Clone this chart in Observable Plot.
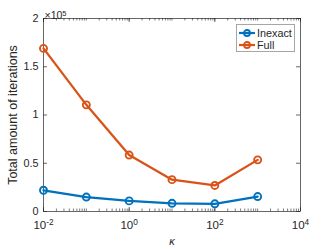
<!DOCTYPE html>
<html>
<head>
<meta charset="utf-8">
<script src="https://cdn.jsdelivr.net/npm/d3@7"></script>
<script src="https://cdn.jsdelivr.net/npm/@observablehq/plot@0.6"></script>
<style>
  html, body { margin: 0; padding: 0; background: #fff; }
  #wrap { position: relative; width: 332px; height: 249px; font-family: "Liberation Sans", Arial, Helvetica, sans-serif; }
  #legend { position: absolute; left: 236px; top: 24px; width: 59px; height: 28px; border: 1px solid #a6a6a6; background: #fff; box-sizing: border-box; }
  .li { position: absolute; left: 0; height: 12px; display: flex; align-items: center; font-size: 10.8px; color: #262626; }
  .li svg { margin-left: 1px; margin-right: 1px; }
</style>
</head>
<body>
<div id="wrap"></div>
<script>
const kappa = [0.01, 0.1, 1, 10, 100, 1000];
const inexact = [22000, 15000, 11000, 8500, 8000, 15500];
const full = [169000, 110500, 58500, 33000, 27000, 53500];
const seriesNames = ["Inexact", "Full"];
const seriesColors = ["#0072BD", "#D95319"];
const yTicks = [0, 50000, 100000, 150000, 200000];
const xLabelTicks = [1e-2, 1, 1e2, 1e4];
const xMinorTicks = d3.range(-2, 4).flatMap(e => d3.range(1, 10).map(m => m * Math.pow(10, e))).concat([1e4]);

const data = [];
seriesNames.forEach((s, i) => {
  const vals = i === 0 ? inexact : full;
  kappa.forEach((k, j) => data.push({series: s, kappa: k, value: vals[j]}));
});

const W = 332, H = 249, mL = 43, mR = 32, mT = 18, mB = 38;
const pw = W - mL - mR, ph = H - mT - mB;
const ink = "#262626";
const font = "Liberation Sans, Arial, Helvetica, sans-serif";

const chart = Plot.plot({
  width: W, height: H,
  marginLeft: mL, marginRight: mR, marginTop: mT, marginBottom: mB,
  style: {fontFamily: font, fontSize: "10px", color: ink, background: "#fff"},
  x: {type: "log", domain: [1e-2, 1e4]},
  y: {domain: [0, 200000]},
  color: {domain: seriesNames, range: seriesColors},
  marks: [
    Plot.frame({stroke: ink, strokeWidth: 0.7}),
    // inward ticks
    Plot.tickY(yTicks, {y: d => d, stroke: ink, strokeWidth: 0.7, insetRight: pw - 4}),
    Plot.tickY(yTicks, {y: d => d, stroke: ink, strokeWidth: 0.7, insetLeft: pw - 4}),
    Plot.tickX(xMinorTicks, {x: d => d, stroke: ink, strokeWidth: 0.6, insetTop: ph - 2.5}),
    Plot.tickX(xMinorTicks, {x: d => d, stroke: ink, strokeWidth: 0.6, insetBottom: ph - 2.5}),
    Plot.tickX(xLabelTicks, {x: d => d, stroke: ink, strokeWidth: 0.7, insetTop: ph - 4}),
    Plot.tickX(xLabelTicks, {x: d => d, stroke: ink, strokeWidth: 0.7, insetBottom: ph - 4}),
    // tick labels
    Plot.axisY({ticks: yTicks, tickSize: 0, tickPadding: 5, tickFormat: d => String(d / 1e5), label: null, fontSize: 10.8}),
    Plot.axisX({ticks: xLabelTicks, tickSize: 0, tickPadding: 9, tickFormat: d => "10^" + Math.round(Math.log10(d)), label: null, fontSize: 11.5}),
    // axis titles
    Plot.axisY({ticks: [], label: "Total amount of iterations", labelAnchor: "center", labelArrow: "none", labelOffset: 35, fontSize: 12.5}),
    Plot.axisX({ticks: [], label: "κ", labelAnchor: "center", labelArrow: "none", labelOffset: 33, fontSize: 11, fontStyle: "italic"}),
    // ×10^5 multiplier
    Plot.text(["×10^5"], {frameAnchor: "top-left", textAnchor: "start", dx: 1, dy: -7, fontSize: 10.5, fill: ink}),
    // data
    Plot.line(data, {x: "kappa", y: "value", z: "series", stroke: "series", strokeWidth: 2.3}),
    Plot.dot(data, {x: "kappa", y: "value", stroke: "series", r: 3.5, strokeWidth: 1.9, fill: "none"})
  ]
});

// superscripts
d3.select(chart).selectAll("text").each(function() {
  const t = d3.select(this);
  const tsp = t.selectAll("tspan");
  const nodes = tsp.empty() ? [this] : tsp.nodes();
  nodes.forEach(n => {
    const s = n.textContent;
    if (s.includes("^")) {
      const [base, exp] = s.split("^");
      const el = d3.select(n);
      el.text(base);
      el.append("tspan").attr("dy", "-0.45em").attr("font-size", "0.72em").text(exp);
    }
  });
});

const wrap = document.getElementById("wrap");
wrap.appendChild(chart);

const legend = document.createElement("div");
legend.id = "legend";
seriesNames.forEach((s, i) => {
  const row = document.createElement("div");
  row.className = "li";
  row.style.top = (2 + i * 12) + "px";
  row.innerHTML = `<svg width="18" height="10"><line x1="1" y1="5" x2="17" y2="5" stroke="${seriesColors[i]}" stroke-width="2.2"/><circle cx="9" cy="5" r="3" fill="none" stroke="${seriesColors[i]}" stroke-width="1.8"/></svg><span>${s}</span>`;
  legend.appendChild(row);
});
wrap.appendChild(legend);
</script>
</body>
</html>
